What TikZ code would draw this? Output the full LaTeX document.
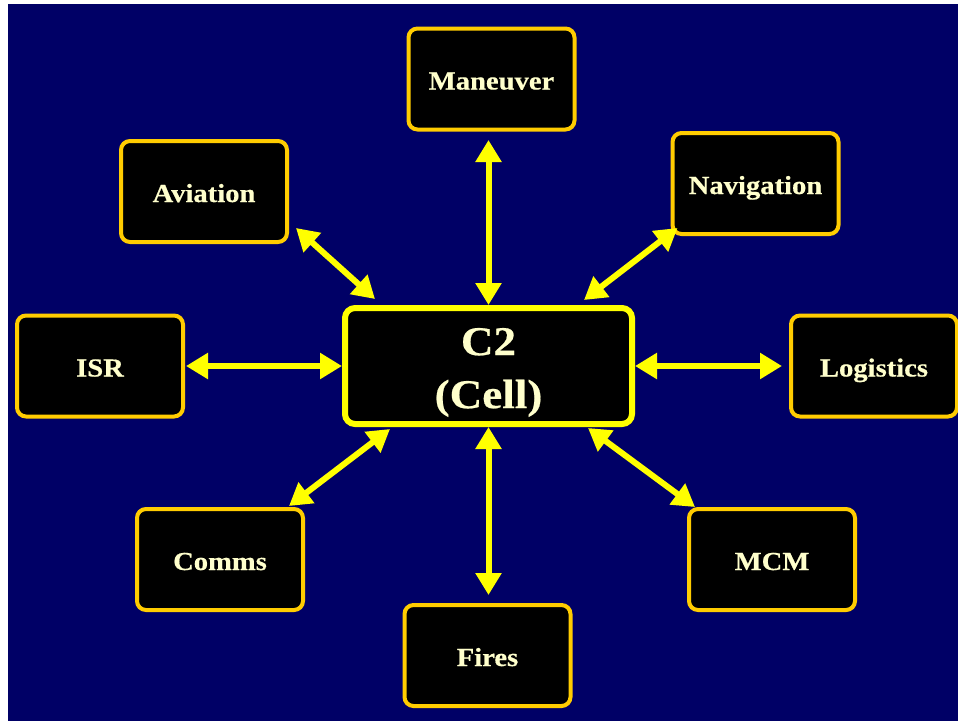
\documentclass[tikz,border=0pt]{standalone}
\usepackage{fontspec}
\setmainfont{Liberation Serif}[FakeStretch=1.1, BoldFeatures={FakeBold=0.5}]
\usetikzlibrary{arrows.meta}
\definecolor{navybg}{RGB}{0,0,102}
\definecolor{gold}{RGB}{255,204,0}
\definecolor{brightyellow}{RGB}{255,255,0}
\definecolor{cream}{RGB}{255,255,204}
\begin{document}
\begin{tikzpicture}[x=1pt,y=-1pt,
  unit/.style={draw=gold, line width=4pt, fill=black, rounded corners=9pt,
    minimum width=166pt, minimum height=101pt, inner sep=0pt, text=cream,
    text height=21pt, text depth=0pt,
    font=\bfseries\fontsize{26}{30}\selectfont},
  hub/.style={draw=brightyellow, line width=6pt, fill=black, rounded corners=10pt,
    minimum width=287pt, minimum height=116pt, inner sep=0pt, text=cream,
    align=center, font=\bfseries\fontsize{41}{53}\selectfont},
  link/.style={draw=brightyellow, line width=6pt,
    {Triangle[length=22pt,width=25pt]}-{Triangle[length=22pt,width=25pt]}}
]
\useasboundingbox (0,0) rectangle (958,721);
\fill[white] (0,0) rectangle (958,721);
\fill[navybg] (8,4) rectangle (958,721);

% central cell and the surrounding functions
\node[hub] (c2) at (488.5,366) {\rule{0pt}{40pt}C2\\(Cell)};
\node[unit] (man) at (491.5,79) {Maneuver};
\node[unit] (avi) at (204,191.5) {Aviation};
\node[unit] (nav) at (755.5,183.5) {Navigation};
\node[unit] (isr) at (100,366) {ISR};
\node[unit] (log) at (874,366) {Logistics};
\node[unit] (com) at (220,559.5) {Comms};
\node[unit] (fir) at (487.5,655.5) {Fires};
\node[unit] (mcm) at (772,559.5) {MCM};

% two-way links
\draw[link, shorten >=8.5pt] (c2.north) -- (c2.north |- man.south);
\draw[link, shorten >=8pt] (c2.south) -- (c2.south |- fir.north);
\draw[link, shorten >=1pt] (c2.west) -- (isr.east);
\draw[link, shorten >=7pt] (c2.east) -- (log.west);
\draw[link] ([shift={(33,-6)}]c2.north west) -- ([shift={(7,-16)}]avi.south east);
\draw[link] ([shift={(-51,-5)}]c2.north east) -- ([shift={(7,-8)}]nav.south west);
\draw[link] ([shift={(48,2)}]c2.south west) -- ([shift={(-16,-1)}]com.north east);
\draw[link] ([shift={(-47,1)}]c2.south east) -- ([shift={(8,0)}]mcm.north west);
\end{tikzpicture}
\end{document}
